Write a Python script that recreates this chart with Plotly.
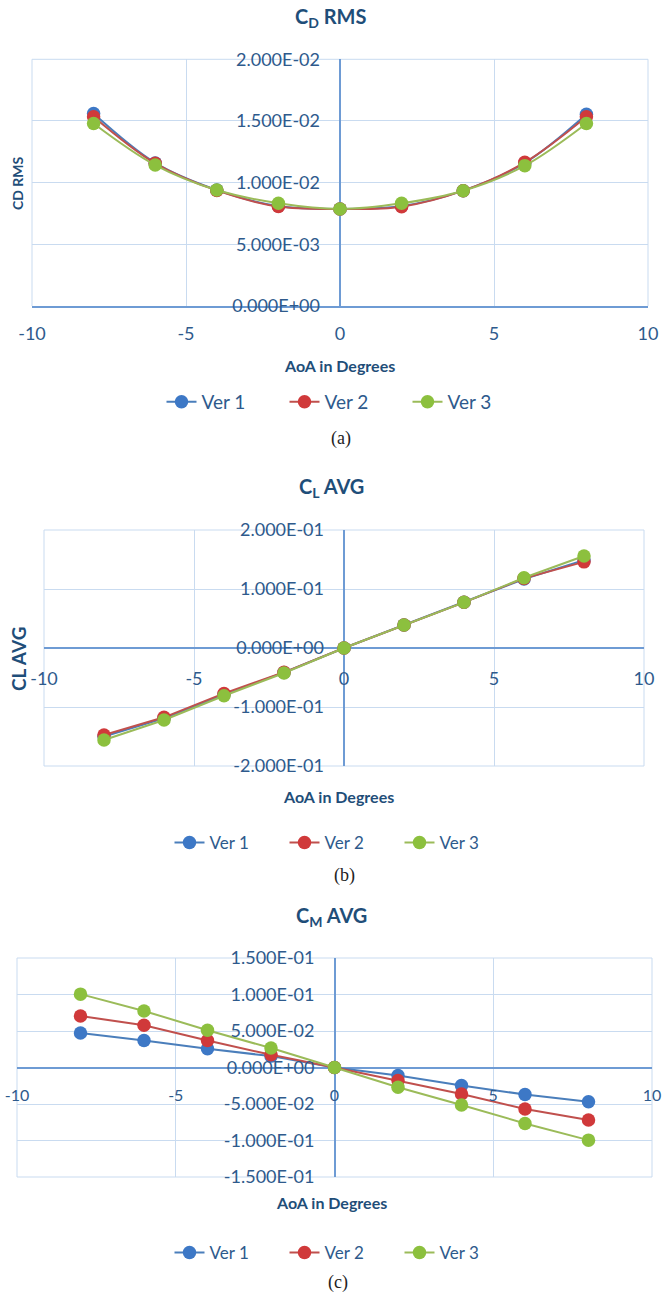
import plotly.graph_objects as go

# ---------------- data ----------------
aoa = [-8, -6, -4, -2, 0, 2, 4, 6, 8]
series_names = ["Ver 1", "Ver 2", "Ver 3"]

cd_rms_v1 = [0.01560, 0.01160, 0.00940, 0.00810, 0.00787, 0.00810, 0.00935, 0.01160, 0.01555]
cd_rms_v2 = [0.01535, 0.01157, 0.00937, 0.00806, 0.00787, 0.00805, 0.00935, 0.01165, 0.01535]
cd_rms_v3 = [0.01480, 0.01143, 0.00940, 0.00833, 0.00787, 0.00833, 0.00935, 0.01138, 0.01480]

cl_avg_v1 = [-0.1500, -0.1190, -0.0790, -0.0415, 0.0000, 0.0390, 0.0774, 0.1170, 0.1490]
cl_avg_v2 = [-0.1475, -0.1175, -0.0770, -0.0412, 0.0000, 0.0390, 0.0774, 0.1180, 0.1460]
cl_avg_v3 = [-0.1560, -0.1220, -0.0810, -0.0424, 0.0000, 0.0390, 0.0774, 0.1190, 0.1560]

cm_avg_v1 = [0.0472, 0.0370, 0.0257, 0.0156, 0.0000, -0.0110, -0.0248, -0.0370, -0.0468]
cm_avg_v2 = [0.0706, 0.0578, 0.0370, 0.0174, 0.0000, -0.0179, -0.0362, -0.0569, -0.0720]
cm_avg_v3 = [0.1005, 0.0775, 0.0510, 0.0266, 0.0000, -0.0270, -0.0514, -0.0766, -0.0995]

x_ticks = [-10, -5, 0, 5, 10]
x_ticktext = ["-10", "-5", "0", "5", "10"]
cd_ticks = [0.0, 0.005, 0.010, 0.015, 0.020]
cd_ticktext = ["0.000E+00", "5.000E-03", "1.000E-02", "1.500E-02", "2.000E-02"]
cl_ticks = [-0.2, -0.1, 0.0, 0.1, 0.2]
cl_ticktext = ["-2.000E-01", "-1.000E-01", "0.000E+00", "1.000E-01", "2.000E-01"]
cm_ticks = [-0.15, -0.10, -0.05, 0.0, 0.05, 0.10, 0.15]
cm_ticktext = ["-1.500E-01", "-1.000E-01", "-5.000E-02", "0.000E+00",
               "5.000E-02", "1.000E-01", "1.500E-01"]

# ---------------- style ----------------
W, H = 662, 1295
def fx(px):
    return px / W
def fy(py):
    return 1 - py / H

FONT = "Lato"
TITLE_C = "#1F4E79"
TICK_C = "#2E5A8C"
GRID_C = "#C9DBF0"
ZERO_C = "#6E9BD4"
line_colors = ["#4A7EBB", "#C0504D", "#9BBB59"]
marker_colors = ["#3D78C6", "#D0393A", "#8CC03E"]

fig = go.Figure()

panels = [
    (cd_rms_v1, cd_rms_v2, cd_rms_v3, "x", "y", "legend", "spline"),
    (cl_avg_v1, cl_avg_v2, cl_avg_v3, "x2", "y2", "legend2", "linear"),
    (cm_avg_v1, cm_avg_v2, cm_avg_v3, "x3", "y3", "legend3", "linear"),
]
for vals1, vals2, vals3, xa, ya, lg, shape in panels:
    for name, vals, lc, mc in zip(series_names, [vals1, vals2, vals3], line_colors, marker_colors):
        fig.add_trace(go.Scatter(
            x=aoa, y=vals, name=name, mode="lines+markers",
            xaxis=xa, yaxis=ya, legend=lg,
            line=dict(color=lc, width=2, shape=shape, smoothing=1),
            marker=dict(color=mc, size=13.5, line=dict(width=0)),
        ))

tickfont = dict(family=FONT, size=18, color=TICK_C)

common_x = dict(range=[-10, 10], tickvals=x_ticks, ticktext=x_ticktext, showgrid=True,
                gridcolor=GRID_C, gridwidth=1, zeroline=True, zerolinecolor=ZERO_C,
                zerolinewidth=1.5, ticks="", fixedrange=True)
common_y = dict(showgrid=True, gridcolor=GRID_C, gridwidth=1, zeroline=True,
                zerolinecolor=ZERO_C, zerolinewidth=1.5, tickfont=tickfont,
                ticks="", showline=False, ticklabelstandoff=20, fixedrange=True)

fig.update_layout(
    xaxis=dict(domain=[fx(32), fx(648)], anchor="y", showline=True, linecolor=ZERO_C,
               linewidth=1.5, ticklabelstandoff=11, tickfont=tickfont, **common_x),
    yaxis=dict(domain=[fy(306), fy(59.3)], range=[0, 0.02], anchor="free", position=fx(340),
               tickvals=cd_ticks, ticktext=cd_ticktext, **common_y),
    xaxis2=dict(domain=[fx(44), fx(644)], anchor="free", position=fy(648), showline=False,
                ticklabelstandoff=18, tickfont=tickfont, **common_x),
    yaxis2=dict(domain=[fy(766), fy(530)], range=[-0.2, 0.2], anchor="free", position=fx(344),
                tickvals=cl_ticks, ticktext=cl_ticktext, **common_y),
    xaxis3=dict(domain=[fx(17), fx(652)], anchor="free", position=fy(1069), showline=False,
                ticklabelstandoff=15, tickfont=dict(family=FONT, size=16, color=TICK_C), **common_x),
    yaxis3=dict(domain=[fy(1177), fy(958)], range=[-0.15, 0.15], anchor="free", position=fx(334.5),
                tickvals=cm_ticks, ticktext=cm_ticktext, **common_y),
)

# plot-area borders (light blue), drawn below the data
shapes = []
def border(xr, yr, sides):
    for x0, y0, x1, y1 in sides:
        shapes.append(dict(type="line", xref=xr + " domain", yref=yr + " domain",
                           x0=x0, y0=y0, x1=x1, y1=y1, layer="below",
                           line=dict(color=GRID_C, width=1)))
border("x", "y", [(0, 0, 0, 1), (0, 1, 1, 1), (1, 0, 1, 1)])
border("x2", "y2", [(0, 0, 0, 1), (0, 1, 1, 1), (1, 0, 1, 1), (0, 0, 1, 0)])
border("x3", "y3", [(0, 0, 0, 1), (0, 1, 1, 1), (1, 0, 1, 1), (0, 0, 1, 0)])

legend_common = dict(orientation="h", xanchor="center", yanchor="middle",
                     bgcolor="rgba(0,0,0,0)", entrywidthmode="pixels")
fig.update_layout(
    legend=dict(x=fx(346), y=fy(402), entrywidth=78,
                font=dict(family=FONT, size=19, color=TICK_C), **legend_common),
    legend2=dict(x=fx(342), y=fy(843), entrywidth=70,
                 font=dict(family=FONT, size=17, color=TICK_C), **legend_common),
    legend3=dict(x=fx(342), y=fy(1253), entrywidth=70,
                 font=dict(family=FONT, size=17, color=TICK_C), **legend_common),
)

annotations = []
def ann(text, px, py, size, color=TITLE_C, bold=True, family=FONT, angle=0):
    annotations.append(dict(
        text=text, x=fx(px), y=fy(py), xref="paper", yref="paper",
        xanchor="center", yanchor="middle", showarrow=False, textangle=angle,
        font=dict(family=family, size=size, color=color, weight="bold" if bold else "normal"),
    ))

# titles
ann("C<sub>D</sub> RMS", 331, 17, 20)
ann("C<sub>L</sub> AVG", 331, 487, 20)
ann("C<sub>M</sub> AVG", 331, 916, 20)
# x-axis titles
ann("AoA in Degrees", 339, 365, 16)
ann("AoA in Degrees", 338, 796, 16)
ann("AoA in Degrees", 331, 1202, 16)
# y-axis titles
ann("CD RMS", 18, 183, 14, angle=-90)
ann("CL AVG", 18, 659, 19, angle=-90)
# captions
ann("(a)", 341, 438, 18, color="#222222", bold=False, family="Liberation Serif")
ann("(b)", 344, 875, 18, color="#222222", bold=False, family="Liberation Serif")
ann("(c)", 338, 1282, 18, color="#222222", bold=False, family="Liberation Serif")

fig.update_layout(
    width=W, height=H, margin=dict(l=0, r=0, t=0, b=0, autoexpand=False),
    paper_bgcolor="white", plot_bgcolor="white",
    annotations=annotations, shapes=shapes, showlegend=True,
)

fig.write_html("out.html", config={"displayModeBar": False},
               post_script="document.body.style.margin='0';document.body.style.overflow='hidden';")
